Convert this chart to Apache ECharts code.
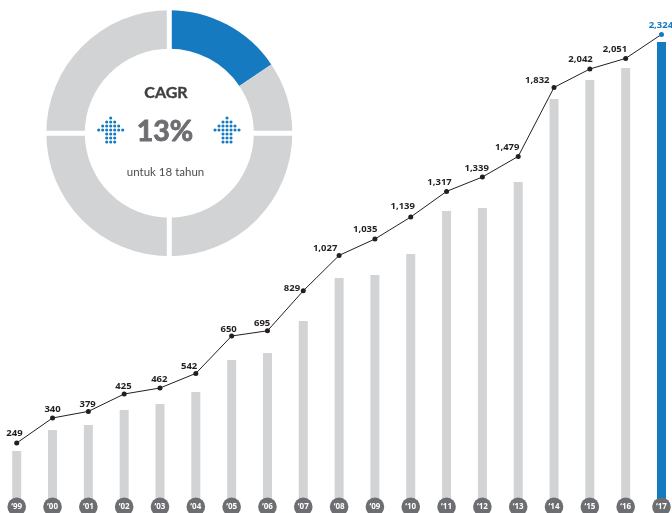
<!DOCTYPE html>
<html>
<head>
<meta charset="utf-8">
<style>html,body{margin:0;padding:0;background:#fff}#c{width:672px;height:513px}</style>
<script src="https://cdn.jsdelivr.net/npm/echarts@6/dist/echarts.min.js"></script>
</head>
<body>
<div id="c"></div>
<script>
// The source graphic is not drawn to scale: printed figures and drawn heights differ.
const years = ["‘99","‘00","‘01","‘02","‘03","‘04","‘05","‘06","‘07","‘08","‘09","‘10","‘11","‘12","‘13","‘14","‘15","‘16","‘17"];
const printedValues = [249,340,379,425,462,542,650,695,829,1027,1035,1139,1317,1339,1479,1832,2042,2051,2324];
const lineHeights = [285,410,443,530,560,633,820,846,1046,1223,1305,1415,1543,1615,1718,2063,2155,2208,2328];
const barHeights = [245,350,375,450,480,540,700,735,895,1110,1125,1230,1445,1460,1590,2005,2100,2160,2290];
const donutShares = [56,34,90,90,90];
const labelShift = [[-2.3,-9.3],[0,-9],[-0.7,-7.6],[-0.7,-8],[-0.7,-8.7],[-6.7,-7],[-3,-7],[-5.3,-8],[-11.3,-2.3],[-14,-7.3],[-9.7,-10],[-8,-10.3],[-7,-9.3],[-5.7,-9],[-11,-9],[-16.7,-7.3],[-9.3,-10],[-10.7,-9.3],[-0.6,-9.3]];
const arrowRows = [[0],[-1,0,1],[-2,-1,0,1,2],[-3,-2,-1,0,1,2,3],[-1,0,1],[-1,0,1],[-1,0,1]];

const BLUE = '#157abf', GREY = '#d1d3d4', BADGE = '#6d6e71', INK = '#231f20';
const FONT = '"Open Sans", sans-serif';
const DONUT_FONT = 'Lato, "Open Sans", sans-serif';
const DONUT = {x: 169.3, y: 133.2};
const fmt = n => n.toLocaleString('en-US');

const graphics = [
  {type:'rect', z:10, silent:true, shape:{x:DONUT.x-2.5, y:DONUT.y-125, width:5, height:250}, style:{fill:'#fff'}},
  {type:'rect', z:10, silent:true, shape:{x:DONUT.x-125, y:DONUT.y-2.5, width:250, height:5}, style:{fill:'#fff'}},
  {type:'text', z:11, x:166, y:93, style:{text:'CAGR', fill:'#3f3f41', stroke:'#3f3f41', lineWidth:0.4, font:'bold 16px '+DONUT_FONT, textAlign:'center', textVerticalAlign:'middle'}},
  {type:'text', z:11, x:165, y:132, style:{text:'13%', fill:BADGE, stroke:BADGE, lineWidth:0.9, font:'bold 28.5px '+DONUT_FONT, textAlign:'center', textVerticalAlign:'middle'}},
  {type:'text', z:11, x:165.5, y:172, style:{text:'untuk 18 tahun', fill:'#4d4d4f', font:'11.5px '+DONUT_FONT, textAlign:'center', textVerticalAlign:'middle'}}
];
[110.7, 227].forEach(cx => arrowRows.forEach((row, r) => row.forEach(c => {
  graphics.push({type:'circle', z:11, silent:true, shape:{cx:cx + c*4, cy:118 + r*4, r:1.55}, style:{fill:BLUE}});
})));

const chart = echarts.init(document.getElementById('c'), null, {renderer:'canvas'});
chart.setOption({
  animation:false,
  backgroundColor:'#fff',
  grid:{left:-1.2, width:680.6, top:0, height:500, containLabel:false, outerBoundsMode:'none'},
  xAxis:{
    type:'category', data:years, z:5,
    axisLine:{show:false}, axisTick:{show:false},
    axisLabel:{
      interval:0, margin:-2.5, color:'#fff', fontFamily:FONT, fontWeight:'bold', fontSize:8,
      backgroundColor:BADGE, width:18.6, height:18.6, lineHeight:18.6, borderRadius:9.3, align:'center'
    }
  },
  yAxis:{type:'value', min:0, max:2500, show:false, splitLine:{show:false}},
  series:[
    {type:'bar', barWidth:9, silent:true, z:2,
      data:barHeights.map((v,i)=>({value:v, itemStyle:{color:i===barHeights.length-1?BLUE:GREY}}))},
    {type:'line', z:3, silent:true, symbol:'circle', symbolSize:5, clip:false,
      lineStyle:{color:INK, width:1}, itemStyle:{color:INK},
      data:lineHeights.map((v,i)=>{
        const last = i===lineHeights.length-1;
        return {value:v,
          itemStyle:{color:last?BLUE:INK},
          label:{show:true, position:'inside', offset:labelShift[i], formatter:fmt(printedValues[i]),
            color:last?BLUE:INK, fontFamily:FONT, fontWeight:'bold', fontSize:9.5}};
      })},
    {type:'pie', z:1, silent:true, center:[DONUT.x,DONUT.y], radius:[84.5,123], startAngle:90, clockwise:true,
      label:{show:false}, labelLine:{show:false},
      data:donutShares.map((v,i)=>({value:v, itemStyle:{color:i===0?BLUE:GREY}}))}
  ],
  graphic:{elements:graphics}
});
</script>
</body>
</html>
